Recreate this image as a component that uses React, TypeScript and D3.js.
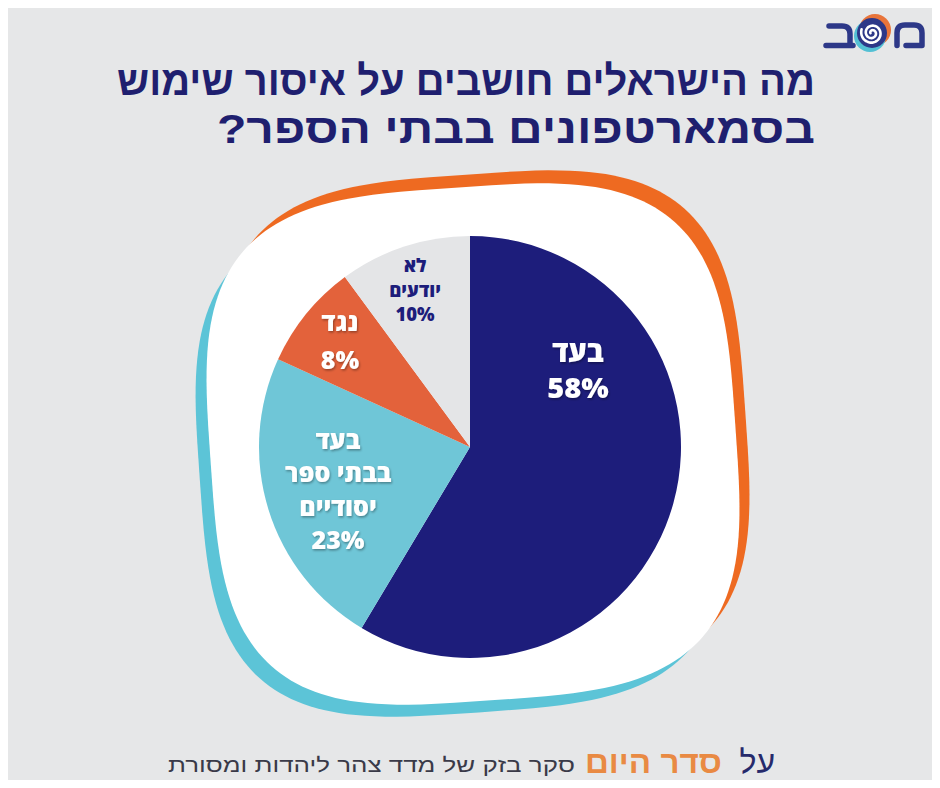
import React, { useEffect, useRef } from "react";
import * as d3 from "d3";

// survey answers, clockwise from 12 o'clock
const answers = ["בעד", "בעד בבתי ספר יסודיים", "נגד", "לא יודעים"];
const shares = [58, 23, 8, 10];
const sliceColors = ["#1d1d7b", "#6fc6d7", "#e3623b", "#e4e5e7"];
const labelLines = [["בעד", "58%"], ["בעד", "בבתי ספר", "יסודיים", "23%"], ["נגד", "8%"], ["לא", "יודעים", "10%"]];
const labelColors = ["#ffffff", "#ffffff", "#ffffff", "#1d1d7b"];

const titleLines = ["מה הישראלים חושבים על איסור שימוש", "בסמארטפונים בבתי הספר?\u200F"];

const W = 940;
const H = 788;

// rounded-square outline used for the backdrop shapes
function squircle(cx: number, cy: number, a: number, b: number, n: number, rotDeg: number) {
  const rot = (rotDeg * Math.PI) / 180;
  const pts: [number, number][] = d3.range(0, 360, 2).map(deg => {
    const t = (deg * Math.PI) / 180;
    const c = Math.cos(t), s = Math.sin(t);
    const x = a * Math.sign(c) * Math.pow(Math.abs(c), 2 / n);
    const y = b * Math.sign(s) * Math.pow(Math.abs(s), 2 / n);
    return [cx + x * Math.cos(rot) - y * Math.sin(rot), cy + x * Math.sin(rot) + y * Math.cos(rot)];
  });
  return d3.line().curve(d3.curveLinearClosed)(pts) || "";
}

const PieChart: React.FC = () => {
  const svgRef = useRef<SVGSVGElement | null>(null);

  useEffect(() => {
    if (!svgRef.current) return;
    const svg = d3.select(svgRef.current);
    svg.selectAll("*").remove();

    const defs = svg.append("defs");
    defs.append("filter")
      .attr("id", "lblShadow")
      .attr("x", "-20%").attr("y", "-20%").attr("width", "140%").attr("height", "140%")
      .append("feDropShadow")
      .attr("dx", 1).attr("dy", 1.5).attr("stdDeviation", 1.2)
      .attr("flood-color", "#000").attr("flood-opacity", 0.35);

    svg.append("rect").attr("width", W).attr("height", H).attr("fill", "#e6e7e8");

    // logo: ב, swirl, מ
    const navyLogo = "#2d3888";
    const logo = svg.append("g").attr("fill", "none").attr("stroke", navyLogo)
      .attr("stroke-width", 5.5).attr("stroke-linecap", "round").attr("stroke-linejoin", "round");
    logo.append("path").attr("d", "M829,26 H842 Q850,26 850,34 V45.5 M826,45.5 H853");
    logo.append("path").attr("d", "M897,45.5 V33 Q897,25 905,25 H914 Q922,25 922,33 V45.5 H906");
    svg.append("circle").attr("cx", 875).attr("cy", 30).attr("r", 16).attr("fill", "#e8743a");
    svg.append("circle").attr("cx", 870).attr("cy", 36).attr("r", 16).attr("fill", "#53c0d4");
    svg.append("circle").attr("cx", 872).attr("cy", 33).attr("r", 15).attr("fill", navyLogo);
    const spiral = d3.range(0, 2.1 * 2 * Math.PI, 0.15).map(t => {
      const rr = 1.5 + (t / (2 * Math.PI)) * 4.6;
      return [872 + rr * Math.cos(t + 3), 33 + rr * Math.sin(t + 3)] as [number, number];
    });
    svg.append("path")
      .attr("d", d3.line().curve(d3.curveBasis)(spiral) || "")
      .attr("fill", "none").attr("stroke", "#fff").attr("stroke-width", 2.6).attr("stroke-linecap", "round");

    // title
    const titleWidths = [698, 598];
    svg.append("g")
      .selectAll("text")
      .data(titleLines)
      .join("text")
      .attr("x", 815)
      .attr("y", (_, i) => 95 + i * 48)
      .attr("text-anchor", "end")
      .attr("font-family", "'Liberation Sans', Arial, sans-serif")
      .attr("font-weight", 700)
      .attr("font-size", 41)
      .attr("fill", "#1f1f6f")
      .attr("textLength", (_, i) => titleWidths[i])
      .attr("lengthAdjust", "spacingAndGlyphs")
      .text(d => d);

    // backdrop shapes
    svg.append("path").attr("d", squircle(484, 431, 262, 257, 3.4, -4)).attr("fill", "#ee6a21");
    svg.append("path").attr("d", squircle(461, 459, 262, 254, 3.4, -4)).attr("fill", "#5cc4d7");
    svg.append("path").attr("d", squircle(473, 444, 263, 257, 3.4, -4)).attr("fill", "#ffffff");

    // pie
    const cx = 470, cy = 447, r = 211;
    const pie = d3.pie<number>().sort(null).value(d => d);
    const arc = d3.arc<d3.PieArcDatum<number>>().innerRadius(0).outerRadius(r);
    const g = svg.append("g").attr("transform", `translate(${cx},${cy})`);
    g.selectAll("path")
      .data(pie(shares))
      .join("path")
      .attr("d", arc)
      .attr("fill", (_, i) => sliceColors[i])
      .attr("stroke", "none")
      .append("title")
      .text((d, i) => `${answers[i]}: ${d.data}%`);

    // label blocks, offsets from the pie centre
    const labelOffsets: [number, number][] = [[108, -77], [-132, 43], [-130, -106], [-55, -157]];
    const labelSizes = [29, 25, 25, 18.5];
    const lineGaps = [36, 33.5, 38, 24.5];
    labelLines.forEach((lines, i) => {
      const [ox, oy] = labelOffsets[i];
      const gap = lineGaps[i];
      const top = oy - ((lines.length - 1) * gap) / 2;
      const t = g.append("g")
        .attr("font-family", "'Open Sans', 'DejaVu Sans', sans-serif")
        .attr("font-weight", 800)
        .attr("font-size", labelSizes[i])
        .attr("fill", labelColors[i])
        .attr("text-anchor", "middle")
        .attr("filter", labelColors[i] === "#ffffff" ? "url(#lblShadow)" : null);
      lines.forEach((line, j) => {
        t.append("text")
          .attr("x", ox)
          .attr("y", top + j * gap + labelSizes[i] * 0.36)
          .text(line);
      });
    });

    // footer
    svg.append("text").attr("x", 775).attr("y", 773).attr("text-anchor", "end")
      .attr("font-family", "'Liberation Sans', Arial, sans-serif").attr("font-size", 32)
      .attr("fill", "#262a6b").text("על");
    svg.append("text").attr("x", 722).attr("y", 773).attr("text-anchor", "end")
      .attr("font-family", "'Liberation Sans', Arial, sans-serif").attr("font-weight", 700)
      .attr("font-size", 32).attr("fill", "#e98a43")
      .attr("textLength", 137).attr("lengthAdjust", "spacingAndGlyphs").text("סדר היום");
    svg.append("text").attr("x", 575).attr("y", 772).attr("text-anchor", "end")
      .attr("font-family", "'Liberation Sans', Arial, sans-serif").attr("font-size", 20)
      .attr("fill", "#3a3a48")
      .attr("textLength", 407).attr("lengthAdjust", "spacingAndGlyphs")
      .text("סקר בזק של מדד צהר ליהדות ומסורת");
  }, []);

  return <svg ref={svgRef} width={W} height={H} style={{ display: "block" }} />;
};

export default function App() {
  return (
    <div style={{ margin: -8 }}>
      <PieChart />
    </div>
  );
}
